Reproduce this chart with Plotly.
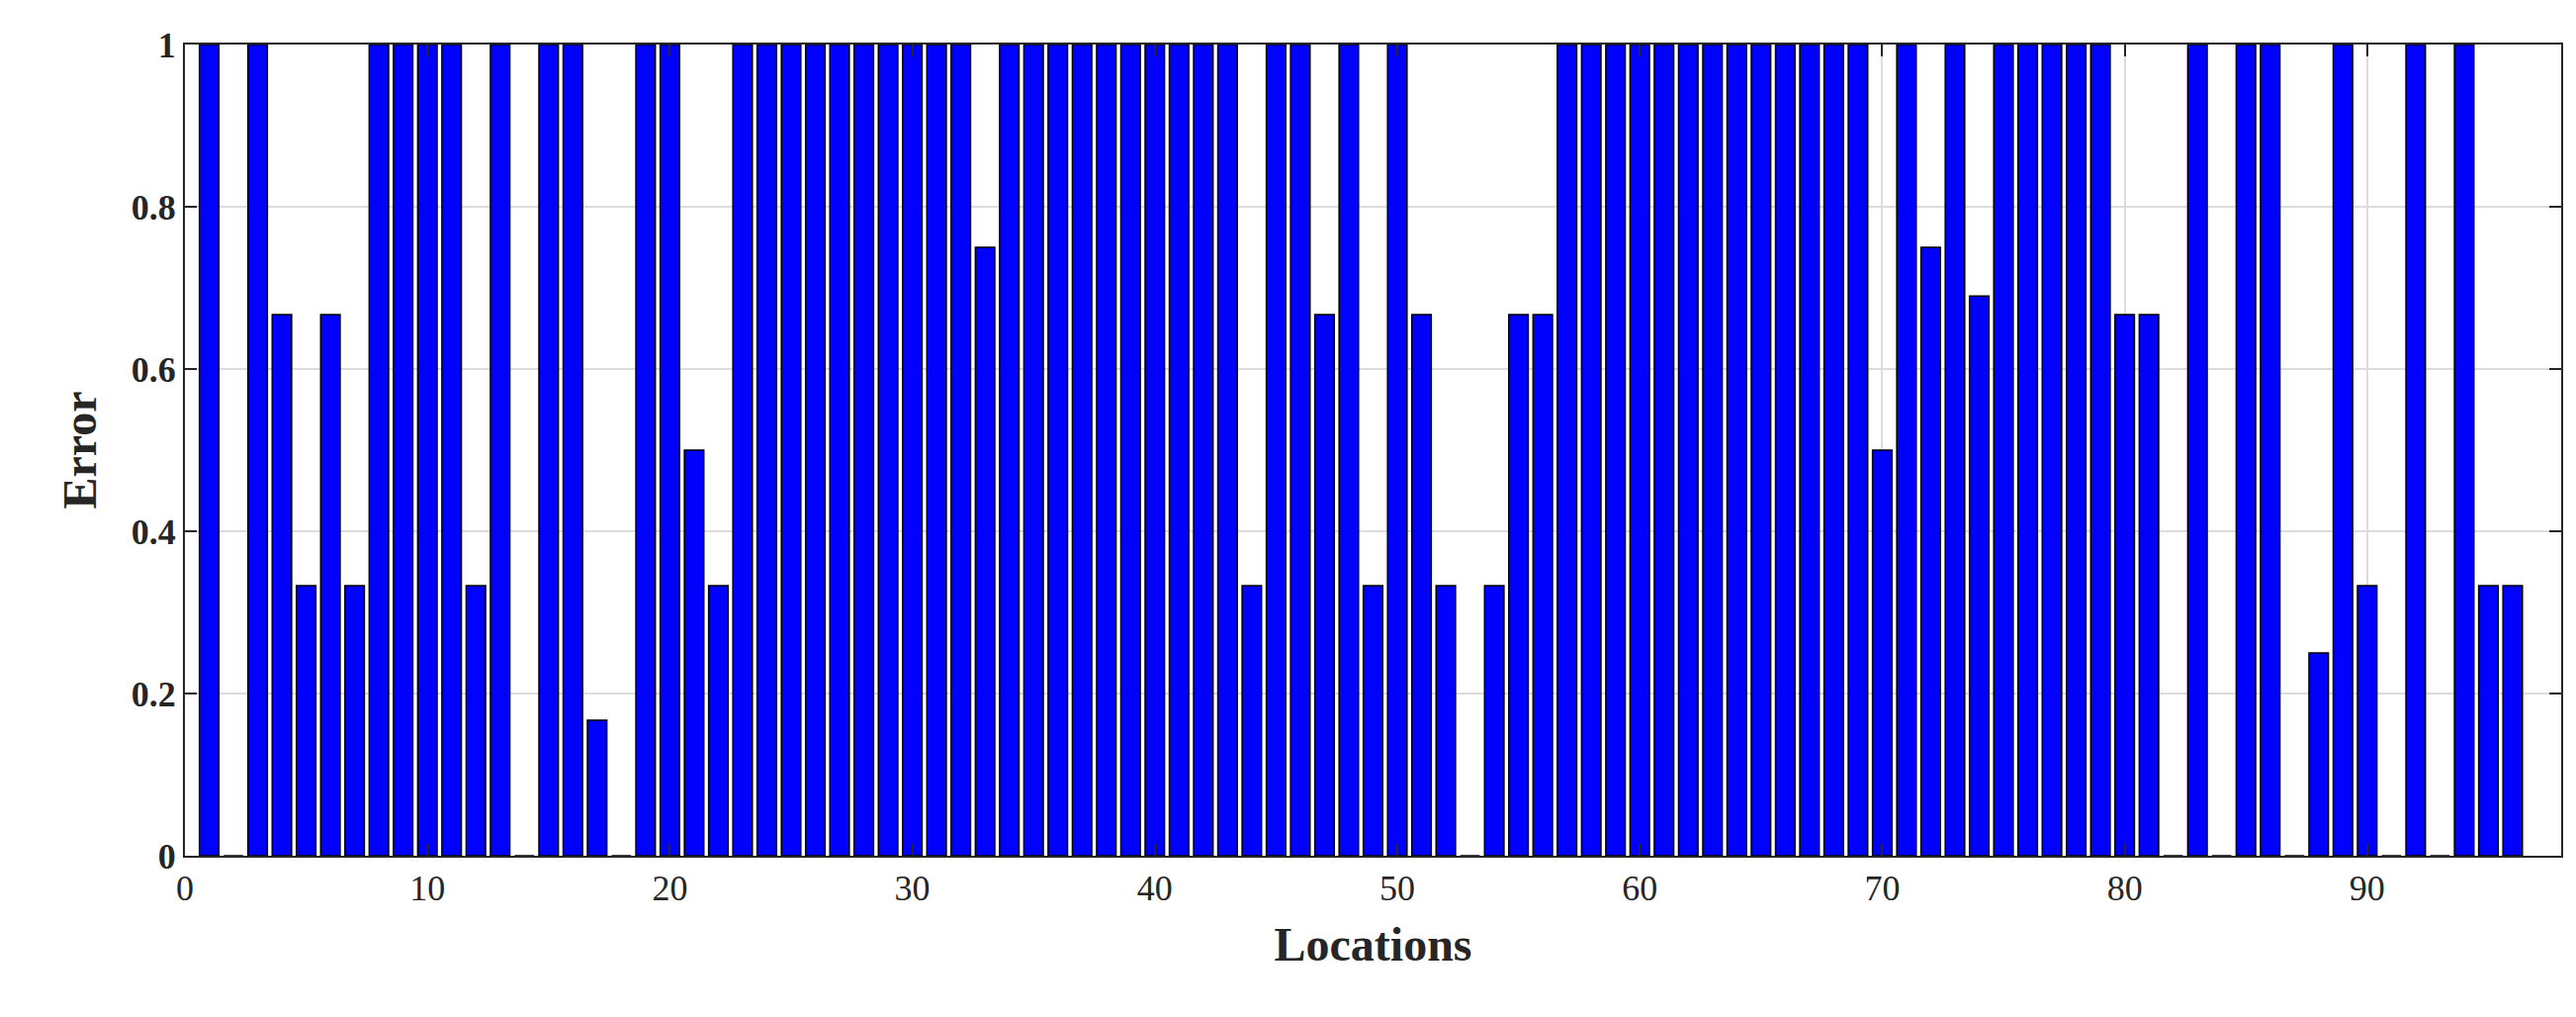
import plotly.graph_objects as go

locations = list(range(1, 97))
errors = [
    1, 0, 1, 0.667, 0.333, 0.667, 0.333, 1, 1, 1,
    1, 0.333, 1, 0, 1, 1, 0.167, 0, 1, 1,
    0.5, 0.333, 1, 1, 1, 1, 1, 1, 1, 1,
    1, 1, 0.75, 1, 1, 1, 1, 1, 1, 1,
    1, 1, 1, 0.333, 1, 1, 0.667, 1, 0.333, 1,
    0.667, 0.333, 0, 0.333, 0.667, 0.667, 1, 1, 1, 1,
    1, 1, 1, 1, 1, 1, 1, 1, 1, 0.5,
    1, 0.75, 1, 0.69, 1, 1, 1, 1, 1, 0.667,
    0.667, 0, 1, 0, 1, 1, 0, 0.25, 1, 0.333,
    0, 1, 0, 1, 0.333, 0.333,
]
xticks = list(range(0, 91, 10))
yticks = [0, 0.2, 0.4, 0.6, 0.8, 1]

fig = go.Figure(go.Bar(
    x=locations, y=errors, width=0.8,
    marker=dict(color='#0000ff', line=dict(color='black', width=1.5)),
))

font = dict(family='Liberation Serif', size=36, color='#262626')
axis = dict(showline=True, mirror='ticks', linecolor='#262626', linewidth=2,
            ticks='inside', ticklen=12, tickwidth=2, tickcolor='#262626',
            showgrid=True, gridcolor='#dcdcdc', gridwidth=1.5, zeroline=False,
            tickfont=dict(family='Liberation Serif', size=36, color='#262626'))

fig.update_layout(
    width=2605, height=1028,
    margin=dict(l=179, r=23, t=37, b=171),
    plot_bgcolor='white', paper_bgcolor='white',
    showlegend=False, bargap=0.2,
    font=font,
    xaxis=dict(axis, range=[0, 98], tickvals=xticks,
               title=dict(text='<b>Locations</b>', font=dict(size=48), standoff=20)),
    yaxis=dict(axis, range=[0, 1], tickvals=yticks, ticktext=['0', '0.2', '0.4', '0.6', '0.8', '1'],
               title=dict(text='<b>Error</b>', font=dict(size=48), standoff=20)),
)
fig.update_xaxes(tickprefix='<b>', ticksuffix='</b>')
fig.update_yaxes(ticktext=['<b>%s</b>' % t for t in ['0', '0.2', '0.4', '0.6', '0.8', '1']])
fig.write_html('out.html')
